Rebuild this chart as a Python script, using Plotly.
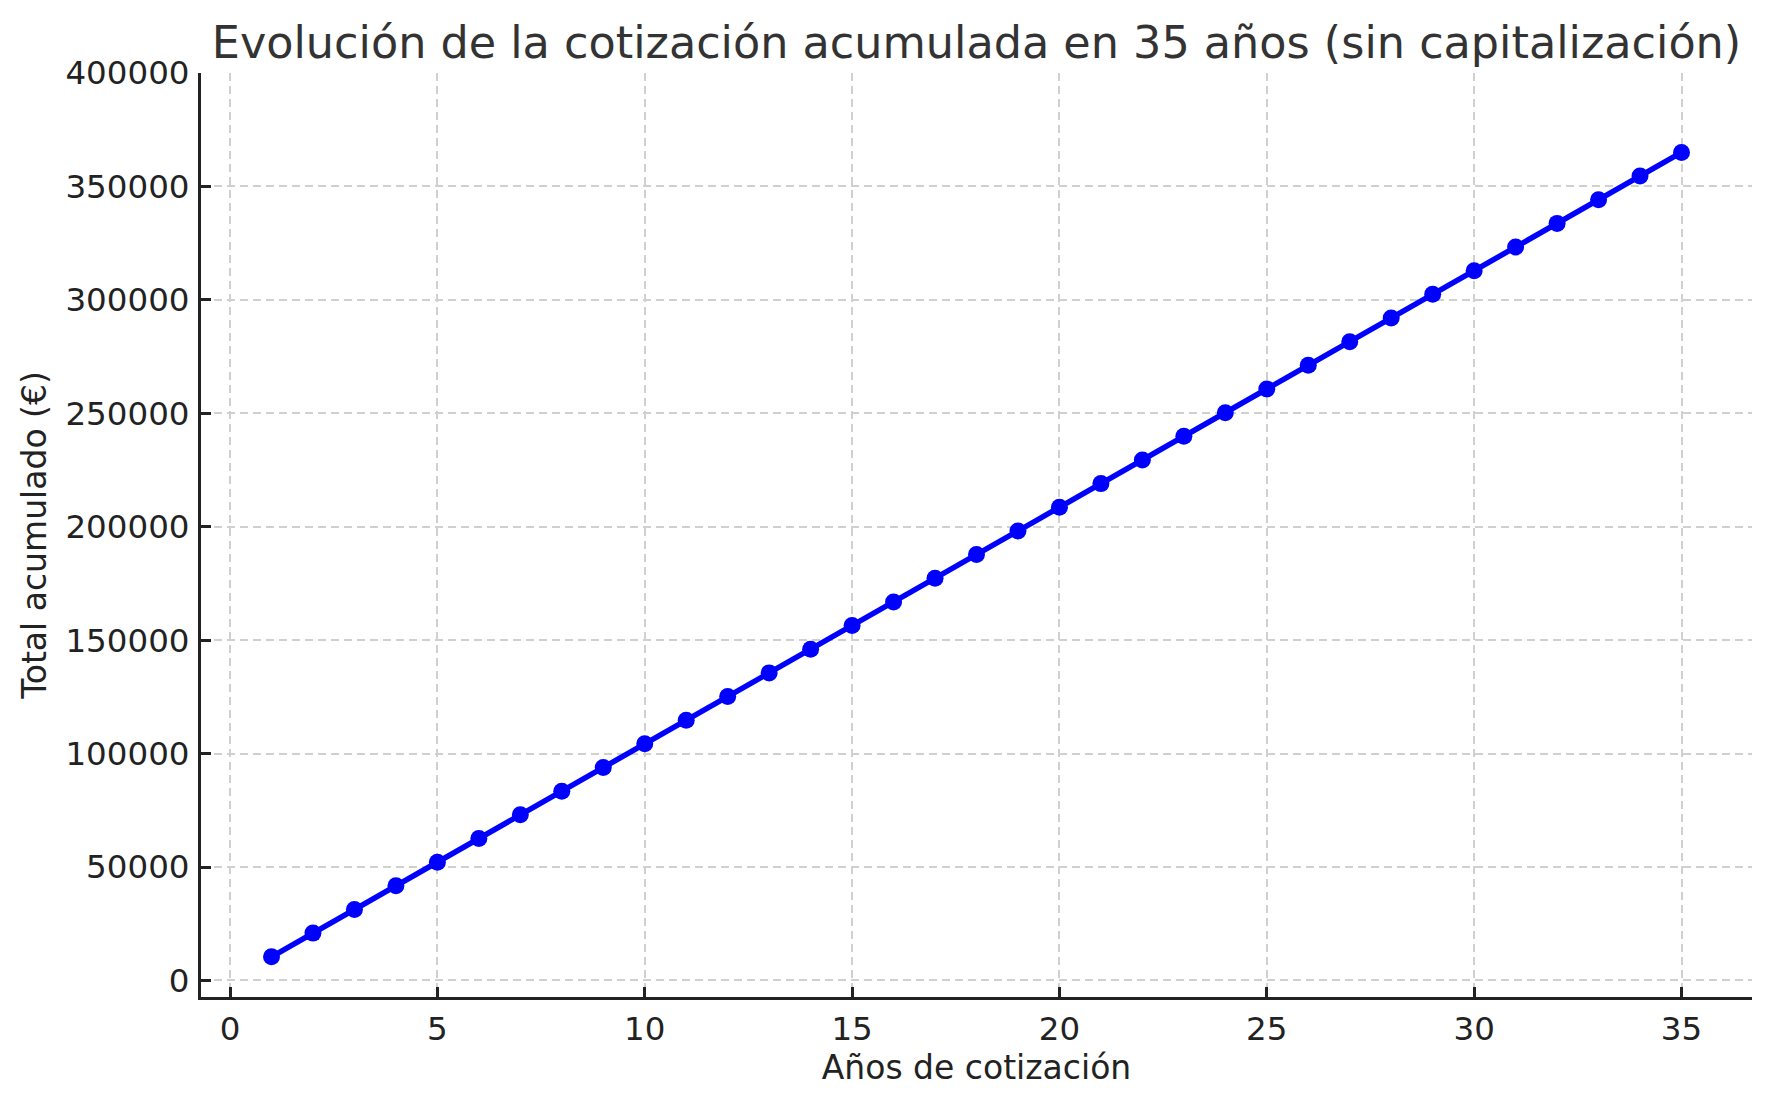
import plotly.graph_objects as go

# years of contribution and accumulated total
years = list(range(1, 36))
total = [10429, 20857, 31286, 41714, 52143, 62571, 73000, 83429, 93857, 104286,
         114714, 125143, 135571, 146000, 156429, 166857, 177286, 187714, 198143, 208571,
         219000, 229429, 239857, 250286, 260714, 271143, 281571, 292000, 302429, 312857,
         323286, 333714, 344143, 354571, 365000]

x_ticks = [0, 5, 10, 15, 20, 25, 30, 35]
y_ticks = [0, 50000, 100000, 150000, 200000, 250000, 300000, 350000, 400000]

title = 'Evolución de la cotización acumulada en 35 años (sin capitalización)'
x_label = 'Años de cotización'
y_label = 'Total acumulado (€)'

FONT = 'DejaVu Sans'
AXIS_COLOR = '#222222'

# the page body has an 8px margin, so the figure is 8px smaller than the window
W, H = 1763, 1095

fig = go.Figure()
fig.add_trace(go.Scatter(
    x=years, y=total, mode='lines+markers',
    line=dict(color='#0000ff', width=5.5),
    marker=dict(color='#0000ff', size=17),
    showlegend=False,
))

axis_style = dict(
    showline=True, linecolor=AXIS_COLOR, linewidth=3,
    ticks='inside', ticklen=10, tickwidth=2.5, tickcolor=AXIS_COLOR,
    showgrid=True, gridcolor='#d0d0d0', gridwidth=1.5, griddash='8px,5px',
    zeroline=False, mirror=False,
    tickfont=dict(family=FONT, size=32.5, color=AXIS_COLOR),
)

fig.update_xaxes(
    **axis_style, range=[-0.7, 36.7], tickvals=x_ticks,
    ticklabelstandoff=1,
    title=dict(text=x_label, font=dict(family=FONT, size=33, color=AXIS_COLOR), standoff=7),
)
fig.update_yaxes(
    **axis_style, range=[-7300, 400000], tickvals=y_ticks, tickformat='d',
    ticklabelstandoff=2,
    title=dict(text=y_label, font=dict(family=FONT, size=33, color=AXIS_COLOR), standoff=9),
)

fig.update_layout(
    width=W, height=H,
    margin=dict(l=193, r=19, t=65, b=106),
    plot_bgcolor='white', paper_bgcolor='white',
    font=dict(family=FONT),
    title=dict(text=title, x=0.5, xref='paper', xanchor='center',
               y=1 - 34 / H, yref='container', yanchor='middle',
               font=dict(family=FONT, size=44.5, color='#333333')),
)

fig.write_html('out.html')
